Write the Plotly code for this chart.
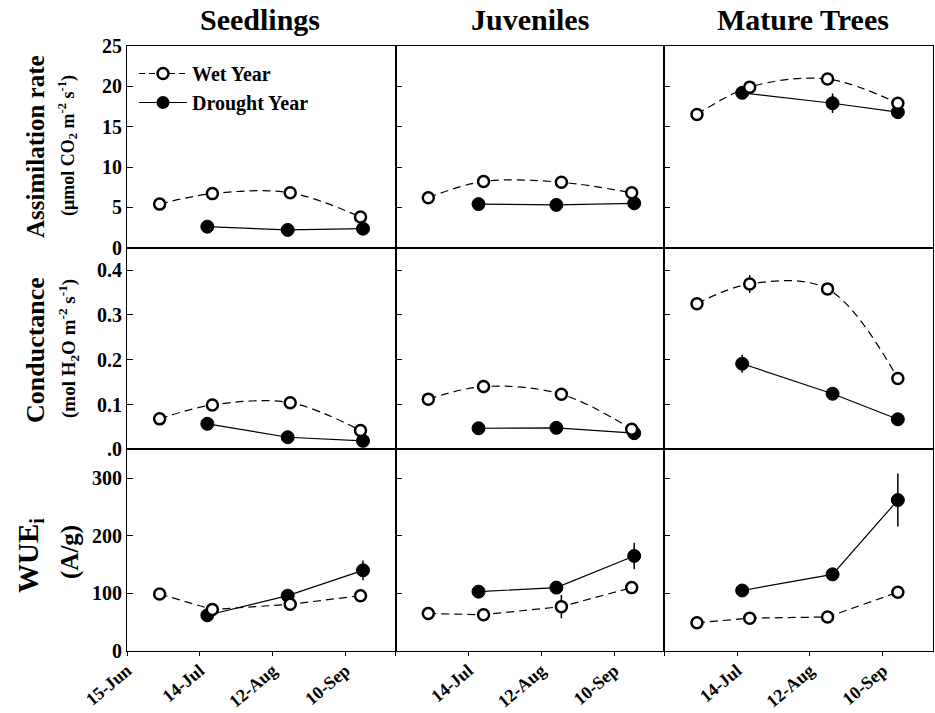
import plotly.graph_objects as go
from plotly.subplots import make_subplots

# ---------------- data ----------------
groups = ["Seedlings", "Juveniles", "Mature Trees"]

wet_dates = {
    "Seedlings": ["2000-06-28", "2000-07-19", "2000-08-19", "2000-09-16"],
    "Juveniles": ["2000-06-28", "2000-07-20", "2000-08-20", "2000-09-17"],
    "Mature Trees": ["2000-06-28", "2000-07-19", "2000-08-19", "2000-09-16"],
}
drought_dates = {
    "Seedlings": ["2000-07-17", "2000-08-18", "2000-09-17"],
    "Juveniles": ["2000-07-18", "2000-08-18", "2000-09-18"],
    "Mature Trees": ["2000-07-16", "2000-08-21", "2000-09-16"],
}

# Assimilation rate
assim_wet = {"Seedlings": [5.4, 6.7, 6.8, 3.8],
             "Juveniles": [6.2, 8.2, 8.1, 6.8],
             "Mature Trees": [16.5, 19.9, 20.9, 17.9]}
assim_wet_err = {"Seedlings": [0.2, 0.3, 0.3, 0.3],
                 "Juveniles": [0.2, 0.7, 0.4, 0.3],
                 "Mature Trees": [0.2, 0.6, 0.4, 0.4]}
assim_dry = {"Seedlings": [2.6, 2.2, 2.35],
             "Juveniles": [5.4, 5.3, 5.5],
             "Mature Trees": [19.2, 17.9, 16.8]}
assim_dry_err = {"Seedlings": [0.2, 0.2, 0.2],
                 "Juveniles": [0.2, 0.3, 0.2],
                 "Mature Trees": [0.4, 1.2, 0.4]}

# Conductance
cond_wet = {"Seedlings": [0.068, 0.099, 0.104, 0.042],
            "Juveniles": [0.112, 0.140, 0.123, 0.045],
            "Mature Trees": [0.325, 0.369, 0.358, 0.158]}
cond_wet_err = {"Seedlings": [0.003, 0.004, 0.004, 0.004],
                "Juveniles": [0.004, 0.015, 0.01, 0.004],
                "Mature Trees": [0.005, 0.02, 0.008, 0.006]}
cond_dry = {"Seedlings": [0.057, 0.027, 0.019],
            "Juveniles": [0.047, 0.048, 0.036],
            "Mature Trees": [0.191, 0.124, 0.067]}
cond_dry_err = {"Seedlings": [0.004, 0.003, 0.003],
                "Juveniles": [0.003, 0.004, 0.003],
                "Mature Trees": [0.02, 0.005, 0.004]}

# WUEi
wue_wet = {"Seedlings": [99, 72, 81, 96],
           "Juveniles": [65, 63, 77, 110],
           "Mature Trees": [49, 57, 59, 102]}
wue_wet_err = {"Seedlings": [4, 6, 10, 9],
               "Juveniles": [3, 3, 20, 8],
               "Mature Trees": [3, 3, 3, 7]}
wue_dry = {"Seedlings": [62, 96, 140],
           "Juveniles": [103, 110, 165],
           "Mature Trees": [105, 133, 262]}
wue_dry_err = {"Seedlings": [5, 6, 17],
               "Juveniles": [4, 5, 23],
               "Mature Trees": [4, 5, 46]}

x_tickvals = ["2000-06-15", "2000-07-14", "2000-08-12", "2000-09-10"]
x_ticktext_first = ["15-Jun", "14-Jul", "12-Aug", "10-Sep"]
x_ticktext_other = [" ", "14-Jul", "12-Aug", "10-Sep"]
x_range = ["2000-06-15", "2000-09-30"]

y_ranges = [[0, 25], [0, 0.45], [0, 350]]
y_tickvals = [[0, 5, 10, 15, 20, 25], [0, 0.1, 0.2, 0.3, 0.4], [0, 100, 200, 300]]
y_ticktext = [["0", "5", "10", "15", "20", "25"], [".0", "0.1", "0.2", "0.3", "0.4"],
              ["0", "100", "200", "300"]]

rows_data = [
    (assim_wet, assim_wet_err, assim_dry, assim_dry_err, "spline"),
    (cond_wet, cond_wet_err, cond_dry, cond_dry_err, "spline"),
    (wue_wet, wue_wet_err, wue_dry, wue_dry_err, "linear"),
]

FONT = "Liberation Serif"

fig = make_subplots(rows=3, cols=3, horizontal_spacing=0, vertical_spacing=0)

for r, (wet, wet_err, dry, dry_err, shape) in enumerate(rows_data, start=1):
    for c, g in enumerate(groups, start=1):
        fig.add_trace(go.Scatter(
            x=drought_dates[g], y=dry[g], mode="lines+markers",
            name="Drought Year", showlegend=False, legendrank=2,
            line=dict(color="black", width=1.2),
            marker=dict(symbol="circle", size=13, color="black",
                        line=dict(color="black", width=1)),
            error_y=dict(type="data", array=dry_err[g], color="black",
                         thickness=1.5, width=0),
        ), row=r, col=c)
        fig.add_trace(go.Scatter(
            x=wet_dates[g], y=wet[g], mode="lines+markers",
            name="Wet Year", showlegend=False, legendrank=1,
            line=dict(color="black", width=1.2, dash="8px,5px", shape=shape, smoothing=1),
            marker=dict(symbol="circle", size=11, color="white",
                        line=dict(color="black", width=2.5)),
            error_y=dict(type="data", array=wet_err[g], color="black",
                         thickness=1.5, width=0),
        ), row=r, col=c)

# legend entries
fig.add_trace(go.Scatter(
    x=[None], y=[None], mode="lines+markers", name="Wet Year", legendrank=1,
    line=dict(color="black", width=1.2, dash="6px,4px"),
    marker=dict(symbol="circle", size=11, color="white", line=dict(color="black", width=2.5)),
), row=1, col=1)
fig.add_trace(go.Scatter(
    x=[None], y=[None], mode="lines+markers", name="Drought Year", legendrank=2,
    line=dict(color="black", width=1.2),
    marker=dict(symbol="circle", size=13, color="black"),
), row=1, col=1)

for r in range(1, 4):
    for c in range(1, 4):
        fig.update_xaxes(
            type="date", range=x_range, tickvals=x_tickvals,
            ticktext=(x_ticktext_first if c == 1 else x_ticktext_other) if r == 3 else None,
            showticklabels=(r == 3), tickangle=-40, automargin=False,
            ticks="outside" if r == 3 else "", ticklen=4, tickcolor="black",
            ticklabelstandoff=-3,
            showline=True, linecolor="black", linewidth=1, mirror=True,
            showgrid=False, zeroline=False,
            tickfont=dict(family=FONT, size=18, color="black", weight="bold"),
            row=r, col=c)
        fig.update_yaxes(
            range=y_ranges[r - 1], tickvals=y_tickvals[r - 1],
            ticktext=y_ticktext[r - 1], showticklabels=(c == 1), automargin=False,
            ticks="inside", ticklen=6, tickcolor="black",
            showline=True, linecolor="black", linewidth=1, mirror=True,
            showgrid=False, zeroline=False,
            tickfont=dict(family=FONT, size=20, color="black", weight="bold"),
            row=r, col=c)

L, R, T, B = 127, 2, 46, 62
W, H = 935, 713
pw, ph = W - L - R, H - T - B

def px_x(x):
    return (x - L) / pw

def px_y(y):
    return 1 - (y - T) / ph

annotations = []
for g, cx in zip(groups, [260, 530, 803]):
    annotations.append(dict(text="<b>%s</b>" % g, x=px_x(cx), y=px_y(20), xref="paper", yref="paper",
                            showarrow=False, font=dict(family=FONT, size=30, color="black"),
                            xanchor="center", yanchor="middle"))

ylabels = [
    ("<b>Assimilation rate</b>", 35, 147, 25),
    ("<b>(\u03bcmol CO<sub>2</sub> m<sup>-2</sup> s<sup>-1</sup>)</b>", 67, 146, 18),
    ("<b>Conductance</b>", 35, 350, 26),
    ("<b>(mol H<sub>2</sub>O m<sup>-2</sup> s<sup>-1</sup>)</b>", 68, 349, 19),
    ("<b>WUE<sub>i</sub></b>", 30, 556, 29),
    ("<b>(A/g)</b>", 70, 552, 25),
]
for txt, cx, cy, size in ylabels:
    annotations.append(dict(text=txt, x=px_x(cx), y=px_y(cy), xref="paper", yref="paper",
                            showarrow=False, textangle=-90,
                            font=dict(family=FONT, size=size, color="black"),
                            xanchor="center", yanchor="middle"))

fig.update_layout(
    width=W, height=H,
    margin=dict(l=L, r=R, t=T, b=B, pad=0, autoexpand=False),
    paper_bgcolor="white", plot_bgcolor="white",
    showlegend=True,
    legend=dict(x=px_x(134), y=px_y(54), xanchor="left", yanchor="top",
                bgcolor="rgba(0,0,0,0)", itemwidth=48, tracegroupgap=0,
                font=dict(family=FONT, size=20, color="black", weight="bold")),
    annotations=annotations,
)

fig.write_html(
    "out.html",
    config={"displayModeBar": False},
    post_script="document.body.style.margin='0px';document.body.style.overflow='hidden';",
)
